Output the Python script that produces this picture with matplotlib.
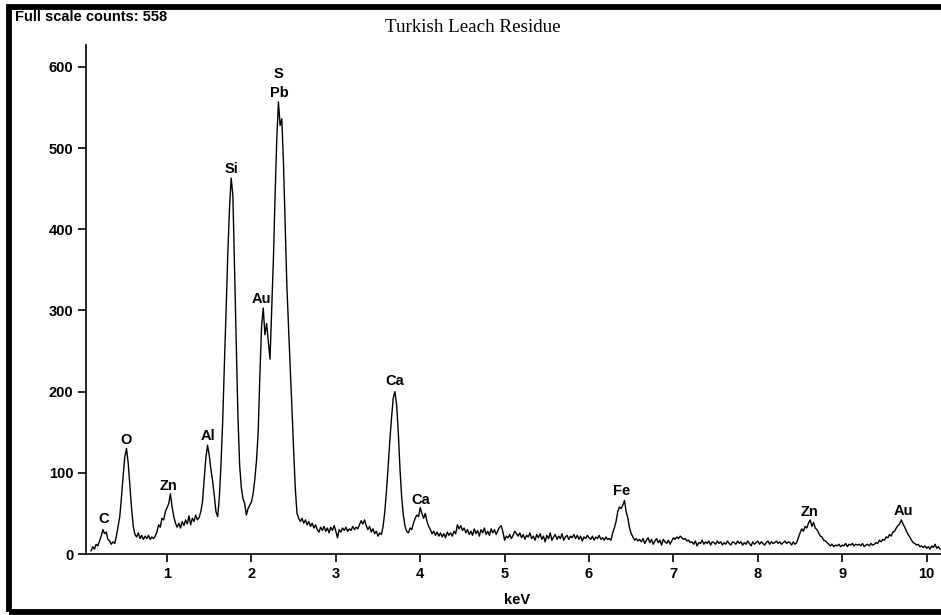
import numpy as np
import matplotlib
matplotlib.use("Agg")
import matplotlib.pyplot as plt
from matplotlib.patches import Rectangle

# EDS spectrum, counts every 0.02 keV starting at 0.10 keV
kev_start = 0.10
kev_step = 0.02
counts = [
    4, 9, 6, 12, 10,                                  # 0.10-0.18
    16, 22, 30, 25, 27, 18, 16, 12, 15, 13,           # 0.20-0.38
    22, 34, 46, 70, 96, 120, 130, 112, 84, 56,        # 0.40-0.58
    34, 24, 21, 26, 19, 23, 18, 22, 19, 23,           # 0.60-0.78
    18, 21, 19, 22, 27, 36, 33, 44, 42, 52,           # 0.80-0.98
    57, 62, 74, 58, 46, 38, 33, 38, 32, 40,           # 1.00-1.18
    35, 42, 37, 47, 36, 44, 40, 48, 42, 45,           # 1.20-1.38
    52, 64, 92, 118, 134, 122, 104, 90, 72, 52,       # 1.40-1.58
    46, 70, 112, 165, 235, 300, 370, 425, 463, 442,   # 1.60-1.78
    352, 258, 170, 110, 82, 68, 62, 48, 56, 60,       # 1.80-1.98
    64, 74, 92, 115, 150, 220, 280, 303, 270, 284,    # 2.00-2.18
    262, 240, 300, 362, 440, 510, 557, 528, 536, 480, # 2.20-2.38
    405, 330, 278, 228, 180, 128, 80, 50, 44, 40,     # 2.40-2.58
    44, 38, 42, 36, 40, 34, 38, 32, 36, 30,           # 2.60-2.78
    27, 33, 29, 34, 28, 32, 26, 33, 29, 35,           # 2.80-2.98
    28, 20, 30, 27, 32, 29, 33, 28, 31, 29,           # 3.00-3.18
    34, 30, 33, 31, 36, 41, 37, 42, 35, 30,           # 3.20-3.38
    34, 27, 31, 25, 28, 22, 26, 24, 34, 52,           # 3.40-3.58
    78, 108, 140, 168, 192, 200, 184, 150, 105, 70,   # 3.60-3.78
    48, 34, 28, 26, 32, 30, 38, 44, 48, 46,           # 3.80-3.98
    57, 50, 44, 50, 40, 34, 30, 25, 28, 23,           # 4.00-4.18
    27, 22, 26, 21, 25, 20, 27, 23, 26, 22,           # 4.20-4.38
    28, 25, 36, 31, 35, 29, 32, 26, 30, 24,           # 4.40-4.58
    28, 23, 31, 25, 29, 22, 30, 26, 32, 24,           # 4.60-4.78
    28, 23, 31, 26, 30, 24, 29, 33, 35, 27,           # 4.80-4.98
    17, 22, 20, 24, 19, 23, 28, 25, 22, 26,           # 5.00-5.18
    20, 24, 18, 23, 21, 26, 19, 22, 17, 24,           # 5.20-5.38
    20, 25, 18, 22, 15, 23, 19, 26, 17, 21,           # 5.40-5.58
    24, 18, 22, 19, 25, 17, 21, 23, 18, 22,           # 5.60-5.78
    20, 24, 19, 23, 18, 22, 16, 21, 19, 23,           # 5.80-5.98
    20, 18, 22, 17, 21, 19, 23, 18, 20, 17,           # 6.00-6.18
    21, 18, 19, 17, 26, 32, 40, 52, 58, 56,           # 6.20-6.38
    60, 66, 52, 44, 32, 25, 21, 17, 19, 16,           # 6.40-6.58
    18, 15, 19, 13, 17, 20, 14, 18, 12, 16,           # 6.60-6.78
    19, 14, 17, 11, 18, 15, 13, 17, 12, 16,           # 6.80-6.98
    20, 18, 21, 19, 22, 20, 18, 19, 16, 17,           # 7.00-7.18
    14, 15, 12, 16, 10, 14, 13, 17, 12, 15,           # 7.20-7.38
    13, 16, 11, 15, 14, 12, 16, 13, 15, 11,           # 7.40-7.58
    14, 12, 16, 13, 11, 15, 14, 12, 16, 13,           # 7.60-7.78
    15, 11, 14, 12, 16, 13, 10, 15, 12, 14,           # 7.80-7.98
    16, 12, 15, 13, 11, 14, 16, 12, 15, 13,           # 8.00-8.18
    14, 16, 13, 15, 12, 14, 16, 13, 15, 14,           # 8.20-8.38
    11, 15, 12, 14, 20, 26, 31, 28, 34, 32,           # 8.40-8.58
    38, 42, 34, 39, 32, 30, 26, 22, 21, 17,           # 8.60-8.78
    16, 14, 12, 10, 12, 9, 11, 10, 12, 9,             # 8.80-8.98
    11, 10, 13, 9, 12, 11, 13, 10, 12, 11,            # 9.00-9.18
    12, 10, 13, 9, 11, 12, 10, 13, 11, 12,            # 9.20-9.38
    14, 13, 17, 15, 18, 17, 21, 20, 24, 22,           # 9.40-9.58
    27, 28, 32, 35, 37, 42, 37, 33, 28, 24,           # 9.60-9.78
    21, 17, 14, 13, 11, 12, 9, 10, 8, 10,             # 9.80-9.98
    7, 9, 6, 10, 8, 12, 7, 9, 6,                      # 10.00-10.16
]
energy = kev_start + kev_step * np.arange(len(counts))

# peak labels: element, keV, counts
peak_names = ["C", "O", "Zn", "Al", "Si", "Au", "S", "Pb", "Ca", "Ca", "Fe", "Zn", "Au"]
peak_kev = [0.25, 0.51, 1.02, 1.49, 1.76, 2.12, 2.32, 2.33, 3.70, 4.01, 6.39, 8.61, 9.72]
peak_counts = [43, 140, 84, 145, 474, 314, 591, 568, 213, 67, 78, 52, 53]

y_ticks = [0, 100, 200, 300, 400, 500, 600]
x_ticks = [1, 2, 3, 4, 5, 6, 7, 8, 9, 10]

W, H = 941, 615
fig = plt.figure(figsize=(W / 100, H / 100), dpi=100)
ax = fig.add_axes([86 / W, (H - 554) / H, 1 - 86 / W, (554 - 45) / H])

ax.plot(energy, counts, color="black", lw=1.0)

bold = dict(family="Liberation Sans", weight="bold", size=10.5)
for name, x, y in zip(peak_names, peak_kev, peak_counts):
    ax.text(x, y, name, ha="center", va="center", **bold)

ax.set_xlim(0.04, 10.17)
ax.set_ylim(0, 627)
ax.set_xticks(x_ticks)
ax.set_yticks(y_ticks)
ax.set_xticklabels([str(t) for t in x_ticks], **bold)
ax.set_yticklabels([str(t) for t in y_ticks], **bold)
ax.tick_params(direction="out", length=6, width=1.2, pad=3)
for side in ("top", "right"):
    ax.spines[side].set_visible(False)
for side in ("left", "bottom"):
    ax.spines[side].set_linewidth(1.2)

fig.text(517 / W, 1 - 600 / H, "keV", ha="center", va="center", **bold)
fig.text(473 / W, 1 - 28 / H, "Turkish Leach Residue", ha="center", va="center",
         family="Liberation Serif", size=13.7)
fig.text(15 / W, 1 - 17 / H, "Full scale counts: 558", ha="left", va="center",
         family="Liberation Sans", weight="bold", size=10.5)

# black frame around the picture (its right side is cut off)
frame = Rectangle((9 / W, 1 - 612 / H), 1.2, (612 - 6.5) / H,
                  transform=fig.transFigure, fill=False, ec="black", lw=4.2,
                  clip_on=False)
fig.patches.append(frame)

fig.savefig("out.png", dpi=100)
